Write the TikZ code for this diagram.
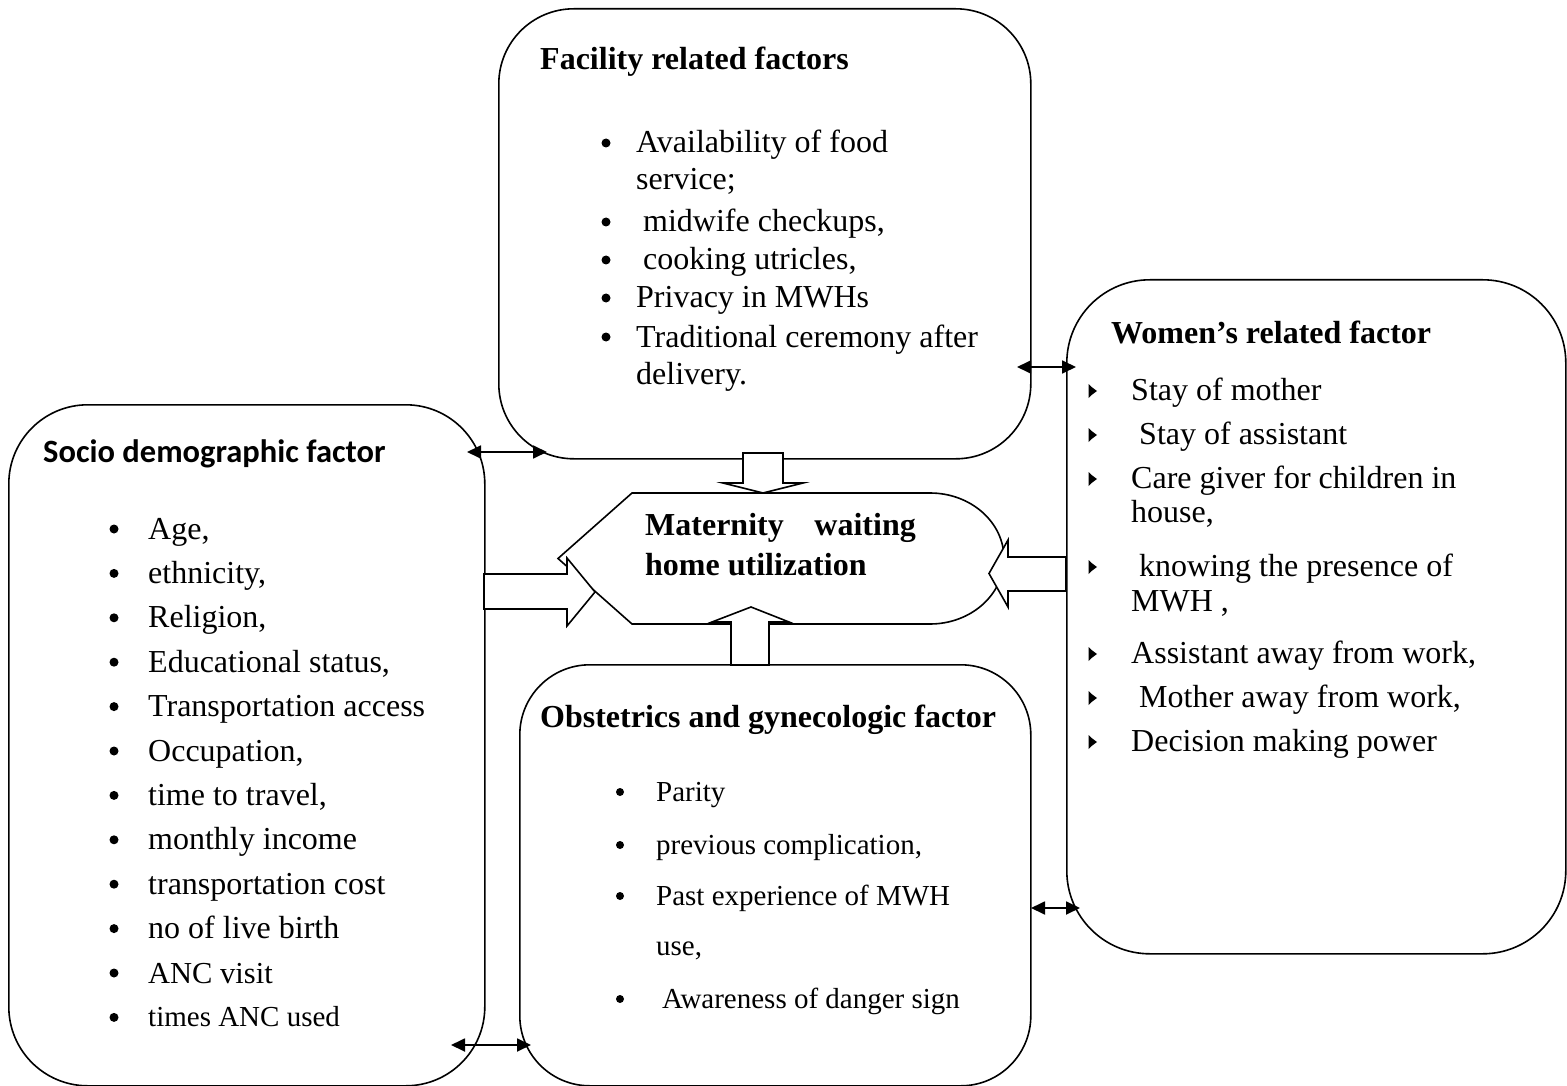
\documentclass[tikz,border=0pt]{standalone}
\usepackage{fontspec}
\setmainfont{Liberation Serif}
\newfontfamily\calibri{Carlito}
\usetikzlibrary{arrows.meta}
\begin{document}
\begin{tikzpicture}[x=1pt,y=-1pt,
  box/.style={draw, line width=1.6pt, rounded corners=#1, anchor=north west, inner sep=0pt},
  box/.default=75pt,
  txt/.style={anchor=base west, inner sep=0pt, font=\fontsize{32}{38}\selectfont},
  stxt/.style={anchor=base west, inner sep=0pt, font=\fontsize{29}{34}\selectfont},
  ttl/.style={anchor=base west, inner sep=0pt, font=\fontsize{32}{38}\selectfont\bfseries},
  dot/.style={circle, fill=black, inner sep=0pt, minimum size=9pt},
  sdot/.style={circle, fill=black, inner sep=0pt, minimum size=8pt},
  blk/.style={draw, line width=1.6pt, fill=white, line join=miter},
  dbl/.style={line width=1.8pt, <->, >={Triangle[length=14pt,width=13pt]}},
  wbul/.style={fill=black}
]
\useasboundingbox (0,0) rectangle (1567,1086);

% boxes
\node[box=75pt, minimum width=532pt, minimum height=450pt] (fac) at (498,8) {};
\node[box=79pt, minimum width=476pt, minimum height=681pt] (soc) at (8,404) {};
\node[box=70pt, minimum width=511pt, minimum height=421pt] (obs) at (519,664) {};
\node[box=83pt, minimum width=499pt, minimum height=674pt] (wom) at (1066,279) {};

% central display shape
\draw[line width=1.6pt, fill=white] (558,558.5) -- (632,493) -- (930,493)
  arc[start angle=90, end angle=-90, x radius=74pt, y radius=65.5pt]
  -- (632,624) -- cycle;

% block arrows
\draw[blk] (743,453) -- (783,453) -- (783,483) -- (803,483) -- (763,493) -- (723,483) -- (743,483) -- cycle;
\draw[blk] (731,665) -- (731,622) -- (712,622) -- (751,607) -- (789,622) -- (769,622) -- (769,665) -- cycle;
\draw[blk] (484,574) -- (567,574) -- (567,558) -- (595,592) -- (567,626) -- (567,609) -- (484,609) -- cycle;
\draw[blk] (1066,557) -- (1008,557) -- (1008,540) -- (989,573.5) -- (1008,607) -- (1008,591) -- (1066,591) -- cycle;

% double arrows
\coordinate (a1) at (467,452); \coordinate (b1) at (547,452);
\coordinate (a2) at (1017,367); \coordinate (b2) at (1076,367);
\coordinate (a3) at (451,1045); \coordinate (b3) at (531,1045);
\coordinate (a4) at (1031,908); \coordinate (b4) at (1080,908);
\draw[dbl] (a1) -- (b1);
\draw[dbl] (a2) -- (b2);
\draw[dbl] (a3) -- (b3);
\draw[dbl] (a4) -- (b4);

% central text
\node[ttl] (m1) at (645,535) {Maternity};
\node[ttl, anchor=base east] (m2) at (916,535) {waiting};
\node[ttl] (m3) at (645,575) {home utilization};

% facility
\node[ttl] (ft) at (540,70) {Facility related factors};
\foreach \y [count=\i] in {153,232,270,308,347} \node[dot] (fb\i) at (606,\y-10) {};
\node[txt] (f1) at (636,153) {Availability of food};
\node[txt] (f2) at (636,190) {service;};
\node[txt] (f3) at (643,232) {midwife checkups,};
\node[txt] (f4) at (643,270) {cooking utricles,};
\node[txt] (f5) at (636,308) {Privacy in MWHs};
\node[txt] (f6) at (636,347) {Traditional ceremony after};
\node[txt] (f7) at (636,384) {delivery.};

% socio demographic
\node[anchor=base west, inner sep=0pt, font=\calibri\fontsize{32.5}{38}\selectfont\bfseries] (st) at (43,462) {Socio demographic factor};
\foreach \t [count=\i] in {{Age,},{ethnicity,},{Religion,},{Educational status,},{Transportation access},{Occupation,},{time to travel,},{monthly income},{transportation cost},{no of live birth}}
  {\node[txt] (s\i) at (148,{539+44.4*(\i-1)}) {\t};}
\node[txt, font=\fontsize{30.5}{36}\selectfont] (s11) at (148,983) {ANC visit};
\node[stxt] (s12) at (148,1026) {times ANC used};
\foreach \i in {1,...,12} \node[dot] (sb\i) at (114,{529+44.4*(\i-1)}) {};

% obstetrics
\node[ttl] (ot) at (540,727) {Obstetrics and gynecologic factor};
\foreach \y [count=\i] in {801,854,905,1008} \node[sdot] (ob\i) at (620,\y-9) {};
\node[stxt] (o1) at (656,801) {Parity};
\node[stxt] (o2) at (656,854) {previous complication,};
\node[stxt] (o3) at (656,905) {Past experience of MWH};
\node[stxt] (o4) at (656,955) {use,};
\node[stxt] (o5) at (662,1008) {Awareness of danger sign};

% women
\node[ttl] (wt) at (1111,343) {Women’s related factor};
\foreach \y in {400,444,488,576,663,707,751}
  \fill[wbul] (1088.5,\y-16) .. controls (1091.5,\y-13) .. (1097,\y-9) .. controls (1091.5,\y-5) .. (1088.5,\y-2) -- cycle;
\node[txt] (w1) at (1131,400) {Stay of mother};
\node[txt] (w2) at (1139,444) {Stay of assistant};
\node[txt] (w3) at (1131,488) {Care giver for children in};
\node[txt] (w4) at (1131,522) {house,};
\node[txt] (w5) at (1139,576) {knowing the presence of};
\node[txt] (w6) at (1131,611) {MWH ,};
\node[txt] (w7) at (1131,663) {Assistant away from work,};
\node[txt] (w8) at (1139,707) {Mother away from work,};
\node[txt] (w9) at (1131,751) {Decision making power};
\end{tikzpicture}
\end{document}
